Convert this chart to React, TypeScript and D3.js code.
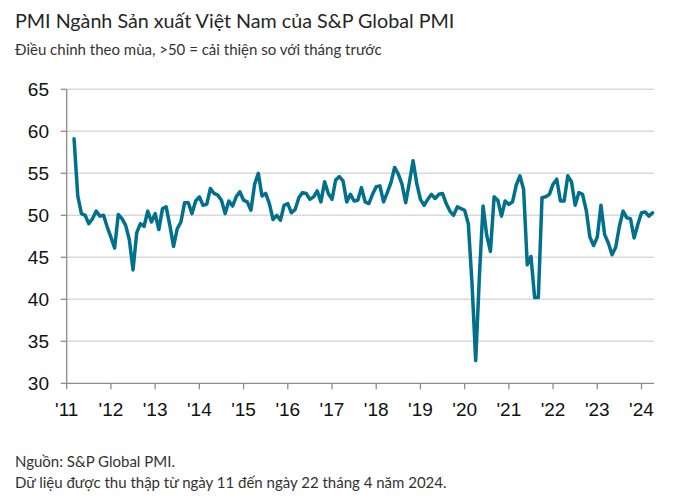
import React from "react";
import * as d3 from "d3";

// Monthly PMI, March 2011 – April 2024
const startYear = 2011;
const startMonth = 2; // March (0-based)
const pmi2011 = [59.1, 52.3, 50.2, 50.0, 49.0, 49.6, 50.5, 49.9, 50.0, 48.6];
const pmi2012 = [47.4, 46.1, 50.1, 49.6, 48.8, 47.1, 43.5, 47.9, 49.0, 48.7, 50.5, 49.2];
const pmi2013 = [50.2, 48.3, 50.8, 51.0, 48.8, 46.3, 48.4, 49.2, 51.5, 51.5, 50.2, 51.7];
const pmi2014 = [52.2, 51.2, 51.3, 53.2, 52.6, 52.4, 51.8, 50.2, 51.7, 51.1, 52.2, 52.8];
const pmi2015 = [51.8, 51.6, 50.6, 53.7, 55.0, 52.3, 52.6, 51.4, 49.5, 50.0, 49.4, 51.2];
const pmi2016 = [51.4, 50.3, 50.7, 52.1, 52.7, 52.6, 51.9, 52.2, 52.9, 51.6, 54.0, 52.6];
const pmi2017 = [51.9, 54.2, 54.6, 54.1, 51.6, 52.5, 51.7, 51.8, 53.3, 51.6, 51.4, 52.5];
const pmi2018 = [53.4, 53.5, 51.6, 52.7, 53.9, 55.7, 54.9, 53.7, 51.5, 53.9, 56.5, 53.8];
const pmi2019 = [51.9, 51.2, 51.9, 52.5, 52.0, 52.5, 52.6, 51.4, 50.5, 50.0, 51.0, 50.8];
const pmi2020 = [50.6, 49.0, 41.9, 32.7, 42.7, 51.1, 47.6, 45.7, 52.2, 51.8, 49.9, 51.7];
const pmi2021 = [51.3, 51.6, 53.6, 54.7, 53.1, 44.1, 45.1, 40.2, 40.2, 52.1, 52.2, 52.5];
const pmi2022 = [53.7, 54.3, 51.7, 51.7, 54.7, 54.0, 51.2, 52.7, 52.5, 50.6, 47.4, 46.4];
const pmi2023 = [47.4, 51.2, 47.7, 46.7, 45.3, 46.2, 48.7, 50.5, 49.7, 49.6, 47.3, 48.9];
const pmi2024 = [50.3, 50.4, 49.9, 50.3];

const yTicks = [30, 35, 40, 45, 50, 55, 60, 65];
const yearTicks = d3.range(2011, 2025);
const yearLabels = yearTicks.map((y) => "'" + String(y).slice(2));

const title = "PMI Ngành Sản xuất Việt Nam của S&P Global PMI";
const subtitle = "Điều chỉnh theo mùa, >50 = cải thiện so với tháng trước";
const footer1 = "Nguồn: S&P Global PMI.";
const footer2 = "Dữ liệu được thu thập từ ngày 11 đến ngày 22 tháng 4 năm 2024.";

const allValues = [
  ...pmi2011, ...pmi2012, ...pmi2013, ...pmi2014, ...pmi2015, ...pmi2016, ...pmi2017,
  ...pmi2018, ...pmi2019, ...pmi2020, ...pmi2021, ...pmi2022, ...pmi2023, ...pmi2024,
];
const series = allValues.map((v, i) => ({ m: startMonth + i, v }));

export default function App() {
  const W = 688, H = 500;
  const x0 = 66.7, xEnd = 654;
  const x = d3.scaleLinear().domain([0, 156]).range([x0, 641.5]);
  const y = d3.scaleLinear().domain([30, 65]).range([383.3, 89.3]);
  const line = d3.line<{ m: number; v: number }>().x((d) => x(d.m)).y((d) => y(d.v)).curve(d3.curveLinear);
  const textFont = "Lato, 'Source Sans Pro', 'Noto Sans', sans-serif";
  const axisFont = "'Liberation Sans', Arial, sans-serif";

  return (
    <svg width={W} height={H} style={{ position: "absolute", left: 0, top: 0, display: "block", background: "#fff" }}>
      <text x={15} y={28} fontFamily={textFont} fontSize={19.7} fill="#262626">{title}</text>
      <text x={15} y={55} fontFamily={textFont} fontSize={15} fill="#333">{subtitle}</text>

      {yTicks.filter((t) => t > 30).map((t) => (
        <line key={"g" + t} x1={x0} x2={xEnd} y1={y(t)} y2={y(t)} stroke="#d9d9d9" strokeWidth={1.5} />
      ))}
      {yTicks.map((t) => (
        <g key={"yt" + t}>
          <line x1={x0 - 6} x2={x0} y1={y(t)} y2={y(t)} stroke="#8c8c8c" strokeWidth={1.3} />
          <text x={49} y={y(t)} dy="0.36em" textAnchor="end" fontFamily={axisFont} fontSize={19} fill="#111">{t}</text>
        </g>
      ))}
      <line x1={x0} x2={x0} y1={y(65)} y2={y(30)} stroke="#8c8c8c" strokeWidth={1.3} />
      <line x1={x0} x2={xEnd} y1={y(30)} y2={y(30)} stroke="#8c8c8c" strokeWidth={1.3} />
      {yearTicks.map((yr, i) => (
        <g key={"xt" + yr}>
          <line x1={x((yr - startYear) * 12)} x2={x((yr - startYear) * 12)} y1={y(30)} y2={y(30) + 6} stroke="#8c8c8c" strokeWidth={1.3} />
          <text x={x((yr - startYear) * 12)} y={416} textAnchor="middle" fontFamily={axisFont} fontSize={19} fill="#111">{yearLabels[i]}</text>
        </g>
      ))}

      <path d={line(series) || ""} fill="none" stroke="#00708c" strokeWidth={3.5} strokeLinejoin="round" strokeLinecap="round" />

      <text x={15} y={466.5} fontFamily={textFont} fontSize={15} fill="#333">{footer1}</text>
      <text x={15} y={488} fontFamily={textFont} fontSize={15} fill="#333">{footer2}</text>
    </svg>
  );
}
